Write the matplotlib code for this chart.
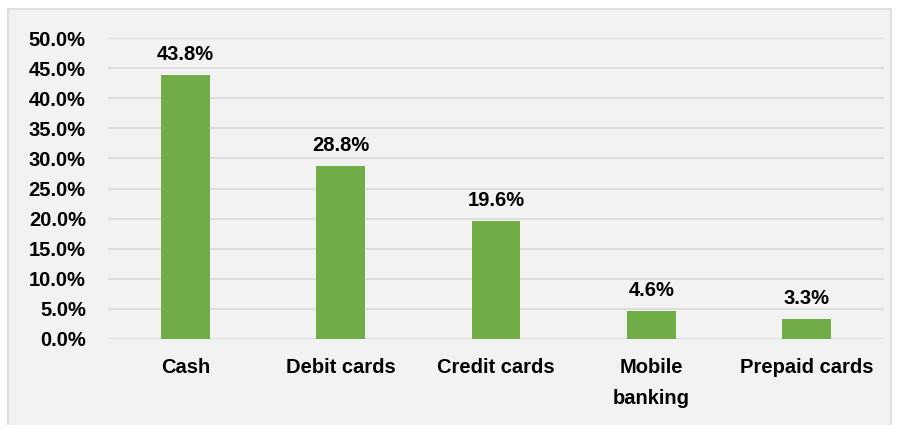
import matplotlib
matplotlib.use("Agg")
import matplotlib.pyplot as plt
from matplotlib.patches import Rectangle
from matplotlib.ticker import FuncFormatter, MultipleLocator

# Payment method shares (percent)
categories = ["Cash", "Debit cards", "Credit cards", "Mobile\nbanking", "Prepaid cards"]
shares = [43.8, 28.8, 19.6, 4.6, 3.3]

plt.rcParams['font.family'] = ['Liberation Sans', 'DejaVu Sans']
plt.rcParams['font.weight'] = 'bold'

fig = plt.figure(figsize=(8.97, 4.25), dpi=100)
fig.patch.set_facecolor('white')

# Chart area box (behind the axes)
fig.patches.append(Rectangle((8 / 897, -0.01), 883 / 897, 1 - 9 / 425 + 0.01,
                             transform=fig.transFigure, facecolor='#f2f2f2',
                             edgecolor='#d9d9d9', linewidth=1.2, zorder=-10))

ax = fig.add_axes([108 / 897, 1 - 339 / 425, 776 / 897, 301 / 425])
ax.set_facecolor('none')

x = range(len(categories))
bars = ax.bar(x, shares, width=0.315, color='#70ad47', zorder=3)

for xi, v in zip(x, shares):
    ax.annotate('%.1f%%' % v, (xi, v), xytext=(0, 8), textcoords='offset points',
                ha='center', va='bottom', fontsize=14.5, fontweight='bold', color='black')

ax.set_xlim(-0.5, len(categories) - 0.5)
ax.set_ylim(0, 50)
ax.yaxis.set_major_locator(MultipleLocator(5))
ax.yaxis.set_major_formatter(FuncFormatter(lambda v, p: '%.1f%%' % v))
ax.grid(axis='y', color='#d9d9d9', linewidth=1.2, zorder=0)
ax.set_axisbelow(True)
ax.set_xticks(list(x))
ax.set_xticklabels(categories, linespacing=1.75)

for s in ax.spines.values():
    s.set_visible(False)
ax.tick_params(axis='both', length=0, labelsize=14.5, colors='black')
ax.tick_params(axis='y', pad=16)
ax.tick_params(axis='x', pad=14)
for lbl in ax.get_xticklabels() + ax.get_yticklabels():
    lbl.set_fontweight('bold')
for lbl in ax.get_xticklabels():
    lbl.set_verticalalignment('top')

fig.savefig('out.png', dpi=100)
